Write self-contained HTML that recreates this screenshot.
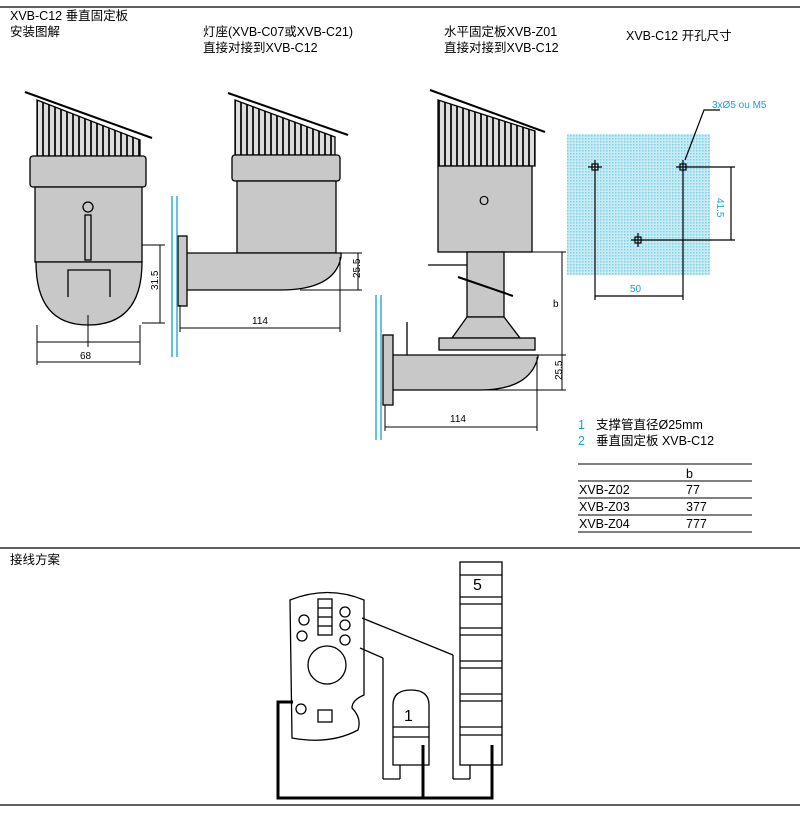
<!DOCTYPE html>
<html><head><meta charset="utf-8"><style>
body{margin:0;background:#fff;width:800px;height:826px;overflow:hidden}
svg{display:block}
text{font-family:"Liberation Sans","Noto Sans CJK SC",sans-serif;}
</style></head><body>
<svg width="800" height="826" viewBox="0 0 800 826" xmlns="http://www.w3.org/2000/svg">
<defs>
<pattern id="dots" width="3" height="3" patternUnits="userSpaceOnUse"><rect width="3" height="3" fill="#c8ecf4"/><rect width="1.5" height="1.5" fill="#7fd0e6"/></pattern>
<pattern id="fins" width="6" height="10" patternUnits="userSpaceOnUse"><rect width="6" height="10" fill="#ddd"/><rect width="2" height="10" fill="#222"/></pattern>
</defs>
<g stroke="#000" fill="none">
<line x1="0" y1="7" x2="800" y2="7" stroke-width="1.2"/>
<line x1="0" y1="548" x2="800" y2="548" stroke-width="1.2"/>
<line x1="0" y1="805" x2="800" y2="805" stroke-width="1.2"/>
</g>
<g font-size="12.5" fill="#000">
<text x="10" y="20">XVB-C12 垂直固定板</text>
<text x="10" y="36">安装图解</text>
<text x="203" y="36">灯座(XVB-C07或XVB-C21)</text>
<text x="203" y="52">直接对接到XVB-C12</text>
<text x="444" y="36">水平固定板XVB-Z01</text>
<text x="444" y="52">直接对接到XVB-C12</text>
<text x="626" y="40">XVB-C12 开孔尺寸</text>
</g>

<!-- Drawing 1 -->
<g stroke="#000" stroke-width="1.3">
<polygon points="37,100 140,140 140,156 37,156" fill="url(#fins)"/>
<line x1="25" y1="92" x2="152" y2="138" stroke-width="2"/>
<rect x="30" y="156" width="116" height="31" rx="3" fill="#c8c8c8"/>
<rect x="35" y="187" width="107" height="75" fill="#c8c8c8"/>
<path d="M36,262 Q36,325 88,325 Q142,325 142,262 Z" fill="#c8c8c8"/>
<path d="M68,297 L68,270 L110,270 L110,297" fill="none"/>
<circle cx="88" cy="207" r="5" fill="none"/>
<rect x="85" y="215" width="6" height="45" fill="none"/>
</g>
<g stroke="#000" stroke-width="1" fill="none">
<line x1="142" y1="245" x2="165" y2="245"/><line x1="142" y1="323" x2="165" y2="323"/>
<line x1="160" y1="245" x2="160" y2="323"/>
<line x1="37" y1="325" x2="37" y2="365"/><line x1="140" y1="325" x2="140" y2="365"/>
<line x1="88" y1="315" x2="88" y2="347"/>
<line x1="37" y1="342" x2="140" y2="342"/><line x1="37" y1="362" x2="140" y2="362"/>
</g>
<text x="148" y="290" font-size="10" transform="rotate(-90 153 285)">31.5</text>
<text x="80" y="359" font-size="10">68</text>

<!-- Drawing 2 -->
<g stroke="#000" stroke-width="1.3">
<polygon points="235,100 335,137 335,155 235,155" fill="url(#fins)"/>
<line x1="228" y1="93" x2="348" y2="135" stroke-width="2"/>
<rect x="232" y="155" width="108" height="26" rx="3" fill="#c8c8c8"/>
<rect x="237" y="181" width="99" height="72" fill="#c8c8c8"/>
<path d="M186,253 L341,253 L341,257 Q335,290 280,290 L186,290 Z" fill="#c8c8c8"/>
<rect x="178" y="236" width="9" height="70" fill="#c8c8c8"/>
</g>
<g stroke="#1a9fd0" stroke-width="1.3"><line x1="172" y1="196" x2="172" y2="357"/><line x1="177" y1="196" x2="177" y2="357"/></g>
<g stroke="#000" stroke-width="1" fill="none">
<line x1="341" y1="253" x2="362" y2="253"/><line x1="300" y1="290" x2="362" y2="290"/>
<line x1="358" y1="253" x2="358" y2="290"/>
<line x1="180" y1="305" x2="180" y2="332"/><line x1="340" y1="257" x2="340" y2="332"/>
<line x1="180" y1="328" x2="340" y2="328"/>
</g>
<text x="252" y="324" font-size="10">114</text>
<text x="348" y="278" font-size="10" transform="rotate(-90 354 272)">25.5</text>

<!-- Drawing 3 -->
<g stroke="#000" stroke-width="1.3">
<polygon points="438,100 535,131 535,166 438,166" fill="url(#fins)"/>
<line x1="430" y1="90" x2="545" y2="132" stroke-width="2"/>
<rect x="438" y="166" width="94" height="86" fill="#c8c8c8"/>
<rect x="467" y="252" width="37" height="65" fill="#c8c8c8"/>
<path d="M467,317 L504,317 L520,338 L452,338 Z" fill="#c8c8c8"/>
<rect x="439" y="338" width="96" height="12" fill="#c8c8c8"/>
<path d="M390,355 L538,355 L538,357 Q530,390 480,390 L390,390 Z" fill="#c8c8c8"/>
<rect x="383" y="335" width="10" height="70" fill="#c8c8c8"/>
<line x1="458" y1="277" x2="513" y2="296" stroke-width="2"/>
<line x1="428" y1="265" x2="467" y2="265"/>
<line x1="407" y1="322" x2="407" y2="355"/>
</g>
<text x="479" y="205" font-size="13">O</text>
<g stroke="#1a9fd0" stroke-width="1.3"><line x1="376" y1="295" x2="376" y2="440"/><line x1="381" y1="295" x2="381" y2="440"/></g>
<g stroke="#000" stroke-width="1" fill="none">
<line x1="532" y1="252" x2="566" y2="252"/><line x1="538" y1="355" x2="566" y2="355"/><line x1="420" y1="390" x2="566" y2="390"/>
<line x1="562" y1="252" x2="562" y2="390"/>
<line x1="385" y1="405" x2="385" y2="431"/><line x1="537" y1="357" x2="537" y2="431"/>
<line x1="385" y1="427" x2="537" y2="427"/>
</g>
<text x="450" y="422" font-size="10">114</text>
<text x="553" y="307" font-size="10">b</text>
<text x="548" y="380" font-size="10" transform="rotate(-90 555 373)">25.5</text>

<!-- Drawing 4 -->
<rect x="567" y="134" width="143" height="141" fill="url(#dots)"/>
<g stroke="#000" stroke-width="1.2" fill="none">
<line x1="595" y1="160" x2="595" y2="300"/><line x1="588" y1="167" x2="602" y2="167"/><rect x="592" y="164" width="6" height="6"/>
<line x1="683" y1="160" x2="683" y2="300"/><line x1="676" y1="167" x2="735" y2="167"/><rect x="680" y="164" width="6" height="6"/>
<line x1="638" y1="233" x2="638" y2="247"/><line x1="631" y1="240" x2="735" y2="240"/><rect x="635" y="237" width="6" height="6"/>
<line x1="731" y1="167" x2="731" y2="240"/>
<line x1="595" y1="296" x2="683" y2="296"/>
<polyline points="685,160 704,110 720,110"/>
</g>
<g fill="#1a9fd0" font-size="10">
<text x="712" y="108">3xØ5 ou M5</text>
<text x="630" y="292">50</text>
<text x="715" y="210" transform="rotate(90 722 205)">41.5</text>
</g>

<!-- Legend & table -->
<g font-size="12.5">
<text x="578" y="429" fill="#1a9fd0">1</text><text x="596" y="429">支撑管直径Ø25mm</text>
<text x="578" y="445" fill="#1a9fd0">2</text><text x="596" y="445">垂直固定板 XVB-C12</text>
<text x="686" y="478">b</text>
<text x="579" y="494">XVB-Z02</text><text x="686" y="494">77</text>
<text x="579" y="511">XVB-Z03</text><text x="686" y="511">377</text>
<text x="579" y="528">XVB-Z04</text><text x="686" y="528">777</text>
</g>
<g stroke="#000" stroke-width="1"><line x1="578" y1="464" x2="752" y2="464"/><line x1="578" y1="481" x2="752" y2="481"/><line x1="578" y1="498" x2="752" y2="498"/><line x1="578" y1="515" x2="752" y2="515"/><line x1="578" y1="532" x2="752" y2="532"/></g>
<text x="10" y="564" font-size="12.5">接线方案</text>

<!-- Wiring -->
<g stroke="#000" stroke-width="1.3" fill="none">
<path d="M290,600 Q328,585 364,600 L364,695 Q352,700 352,708 Q362,718 358,730 Q330,745 292,738 Z" fill="#fff"/>
<circle cx="327" cy="665" r="19"/>
<rect x="318" y="599" width="14" height="36"/>
<line x1="318" y1="608" x2="332" y2="608"/><line x1="318" y1="617" x2="332" y2="617"/><line x1="318" y1="626" x2="332" y2="626"/>
<circle cx="345" cy="612" r="5"/><circle cx="345" cy="625" r="5"/><circle cx="345" cy="640" r="5"/>
<circle cx="304" cy="620" r="5"/><circle cx="302" cy="636" r="5"/>
<circle cx="301" cy="709" r="5"/><rect x="318" y="710" width="14" height="12"/>
<line x1="362" y1="618" x2="453" y2="655"/><line x1="453" y1="655" x2="453" y2="779"/><line x1="453" y1="779" x2="470" y2="779"/><line x1="470" y1="779" x2="470" y2="765"/>
<line x1="360" y1="648" x2="383" y2="658"/><line x1="383" y1="658" x2="383" y2="779"/><line x1="383" y1="779" x2="400" y2="779"/><line x1="400" y1="779" x2="400" y2="765"/>
<path d="M393,705 Q393,690 411,690 Q429,690 429,705 L429,765 L393,765 Z" fill="#fff"/>
<line x1="393" y1="727" x2="429" y2="727"/><line x1="393" y1="737" x2="429" y2="737"/>
<rect x="460" y="562" width="42" height="203" fill="#fff"/>
<line x1="460" y1="575" x2="502" y2="575"/><line x1="460" y1="597" x2="502" y2="597"/>
<line x1="460" y1="604" x2="502" y2="604"/><line x1="460" y1="628" x2="502" y2="628"/><line x1="460" y1="635" x2="502" y2="635"/>
<line x1="460" y1="661" x2="502" y2="661"/><line x1="460" y1="668" x2="502" y2="668"/><line x1="460" y1="694" x2="502" y2="694"/><line x1="460" y1="701" x2="502" y2="701"/>
<line x1="460" y1="727" x2="502" y2="727"/><line x1="460" y1="735" x2="502" y2="735"/>
</g>
<g stroke="#000" stroke-width="3" fill="none">
<polyline points="293,702 278,702 278,798 492,798 492,745"/>
<polyline points="423,798 423,745"/>
</g>
<text x="404" y="721" font-size="16">1</text>
<text x="473" y="590" font-size="16">5</text>
</svg>
</body></html>
